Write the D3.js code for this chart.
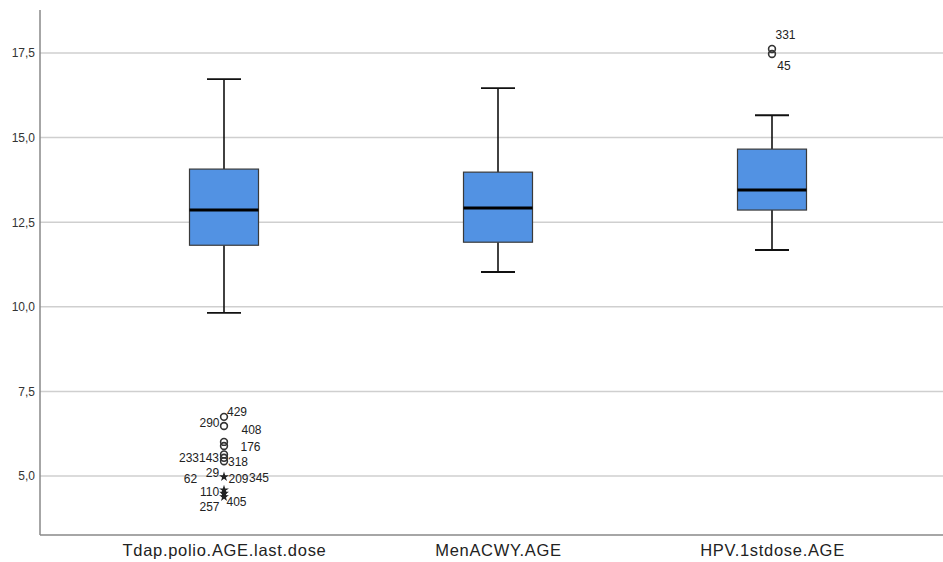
<!DOCTYPE html>
<html><head><meta charset="utf-8">
<script src="https://cdn.jsdelivr.net/npm/d3@7"></script>
<style>body{margin:0;background:#fff}svg{display:block}</style>
</head><body>
<svg id="chart" width="943" height="562"></svg>
<script>
const categories = ["Tdap.polio.AGE.last.dose", "MenACWY.AGE", "HPV.1stdose.AGE"];
const whiskerLow  = [9.82, 11.03, 11.68];
const q1          = [11.82, 11.91, 12.86];
const median      = [12.86, 12.92, 13.45];
const q3          = [14.07, 13.98, 14.66];
const whiskerHigh = [16.73, 16.46, 15.66];
const yTicks = [5.0, 7.5, 10.0, 12.5, 15.0, 17.5];

// outliers: category index, value, kind (o = outlier circle, * = extreme)
const outlierCat   = [0, 0, 0, 0, 0, 0, 0, 0, 0, 0, 0, 2, 2];
const outlierValue = [6.75, 6.48, 6.01, 5.89, 5.64, 5.54, 5.44, 4.98, 4.59, 4.49, 4.39, 17.62, 17.47];
const outlierKind  = ["o","o","o","o","o","o","o","*","*","*","*","o","o"];

// case labels: category, text, value level of the label
const labelCat   = [0, 0, 0, 0, 0, 0, 0, 0, 0, 0, 0, 0, 0, 0, 2, 2];
const labelText  = ["429","290","408","176","233","143","318","29","62","209","345","110","257","405","331","45"];
const labelValue = [6.89, 6.56, 6.38, 5.86, 5.54, 5.54, 5.41, 5.09, 4.91, 4.93, 4.95, 4.53, 4.09, 4.23, 18.03, 17.12];
// horizontal offsets of labels (px from box centre) – layout only
const labelDx    = [13, -14.5, 27.5, 26.5, -35, -15, 14, -11.5, -33.5, 14.5, 35, -14.5, -14.5, 12.5, 13.5, 12];

const W = 943, H = 562;
const mLeft = 40, mTop = 10, mBottom = 535;
const svg = d3.select("#chart");

const y = d3.scaleLinear().domain([3.26, 18.77]).range([mBottom, mTop]);
const x = d3.scalePoint().domain(categories).range([224, 772]);

// gridlines
svg.append("g").selectAll("line").data(yTicks).join("line")
  .attr("x1", mLeft).attr("x2", W)
  .attr("y1", d => y(d)).attr("y2", d => y(d))
  .attr("stroke", "#cfcfcf").attr("stroke-width", 1.5);

// y axis
const fmt = d => d3.format(".1f")(d).replace(".", ",");
const yAxis = svg.append("g").attr("transform", `translate(${mLeft},0)`)
  .call(d3.axisLeft(y).tickValues(yTicks).tickFormat(fmt).tickSize(0).tickPadding(5));
yAxis.select(".domain").remove();
yAxis.selectAll("text").attr("font-family", "Liberation Sans, Arial, sans-serif")
  .attr("font-size", 12).attr("fill", "#333");
svg.append("line").attr("x1", mLeft).attr("x2", mLeft).attr("y1", mTop).attr("y2", mBottom)
  .attr("stroke", "#888").attr("stroke-width", 1.5);

// x axis
const xAxis = svg.append("g").attr("transform", `translate(0,${mBottom})`)
  .call(d3.axisBottom(x).tickSize(0).tickPadding(9));
xAxis.select(".domain").remove();
xAxis.selectAll("text").attr("font-family", "Liberation Sans, Arial, sans-serif")
  .attr("font-size", 16.5).attr("letter-spacing", "0.7px").attr("fill", "#222");
svg.append("line").attr("x1", mLeft).attr("x2", W).attr("y1", mBottom).attr("y2", mBottom)
  .attr("stroke", "#888").attr("stroke-width", 1.5);

const boxW = 69, capW = 34;
const idx = d3.range(categories.length);
const g = svg.append("g");

// whiskers
g.selectAll(".wl").data(idx).join("line")
  .attr("x1", i => x(categories[i])).attr("x2", i => x(categories[i]))
  .attr("y1", i => y(whiskerHigh[i])).attr("y2", i => y(q3[i]))
  .attr("stroke", "#111").attr("stroke-width", 1.6);
g.selectAll(".wl2").data(idx).join("line")
  .attr("x1", i => x(categories[i])).attr("x2", i => x(categories[i]))
  .attr("y1", i => y(q1[i])).attr("y2", i => y(whiskerLow[i]))
  .attr("stroke", "#111").attr("stroke-width", 1.6);
// caps
[whiskerHigh, whiskerLow].forEach(arr => {
  g.append("g").selectAll("line").data(idx).join("line")
    .attr("x1", i => x(categories[i]) - capW / 2).attr("x2", i => x(categories[i]) + capW / 2)
    .attr("y1", i => y(arr[i])).attr("y2", i => y(arr[i]))
    .attr("stroke", "#111").attr("stroke-width", 1.8);
});
// boxes
g.append("g").selectAll("rect").data(idx).join("rect")
  .attr("x", i => x(categories[i]) - boxW / 2).attr("width", boxW)
  .attr("y", i => y(q3[i])).attr("height", i => y(q1[i]) - y(q3[i]))
  .attr("fill", "#5292e3").attr("stroke", "#3a3a3a").attr("stroke-width", 1.2);
// medians
g.append("g").selectAll("line").data(idx).join("line")
  .attr("x1", i => x(categories[i]) - boxW / 2).attr("x2", i => x(categories[i]) + boxW / 2)
  .attr("y1", i => y(median[i])).attr("y2", i => y(median[i]))
  .attr("stroke", "#000").attr("stroke-width", 3);

// outliers
const oIdx = d3.range(outlierValue.length);
g.append("g").selectAll("circle").data(oIdx.filter(i => outlierKind[i] === "o")).join("circle")
  .attr("cx", i => x(categories[outlierCat[i]])).attr("cy", i => y(outlierValue[i]))
  .attr("r", 3.4).attr("fill", "none").attr("stroke", "#333").attr("stroke-width", 1.6);
g.append("g").selectAll("path").data(oIdx.filter(i => outlierKind[i] === "*")).join("path")
  .attr("transform", i => `translate(${x(categories[outlierCat[i]])},${y(outlierValue[i])})`)
  .attr("d", d3.symbol().type(d3.symbolStar).size(30))
  .attr("fill", "#222");

// labels
const lIdx = d3.range(labelText.length);
g.append("g").selectAll("text").data(lIdx).join("text")
  .attr("x", i => x(categories[labelCat[i]]) + labelDx[i])
  .attr("y", i => y(labelValue[i]))
  .attr("dy", "0.35em").attr("text-anchor", "middle")
  .attr("font-family", "Liberation Sans, Arial, sans-serif").attr("font-size", 12)
  .attr("fill", "#222").text(i => labelText[i]);
</script>
</body></html>
